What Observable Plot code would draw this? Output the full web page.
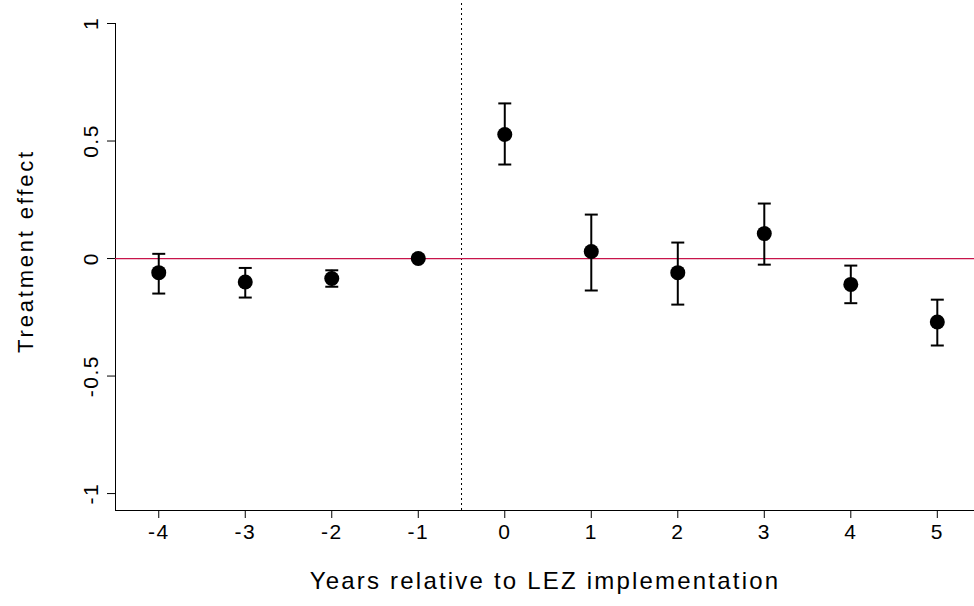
<!DOCTYPE html>
<html><head><meta charset="utf-8">
<script src="https://cdn.jsdelivr.net/npm/d3@7"></script>
<script src="https://cdn.jsdelivr.net/npm/@observablehq/plot@0.6"></script>
<style>body{margin:0;background:#fff}</style>
</head><body><div id="chart"></div>
<script>
// event-study estimates
let years = [-4, -3, -2, -1, 0, 1, 2, 3, 4, 5];
let effect = [-0.06, -0.10, -0.085, 0, 0.528, 0.03, -0.06, 0.106, -0.11, -0.27];
let upper = [0.02, -0.04, -0.05, 0, 0.66, 0.187, 0.068, 0.234, -0.03, -0.175];
let lower = [-0.149, -0.166, -0.12, 0, 0.40, -0.136, -0.196, -0.026, -0.19, -0.37];
let yTicks = [-1, -0.5, 0, 0.5, 1];
let xTitle = "Years relative to LEZ implementation";
let yTitle = "Treatment effect";

let data = years.map((x, i) => ({x, y: effect[i], lo: lower[i], hi: upper[i]}));
let cap = 0.075;
let font = "Liberation Sans, Arial, sans-serif";
let fmt = d => String(d);

let chart = Plot.plot({
  width: 974, height: 606,
  marginLeft: 115, marginRight: 0, marginTop: 23, marginBottom: 96,
  style: {fontFamily: font, fontSize: "20px", color: "#000"},
  x: {domain: [-4.5, 5.43], label: null},
  y: {domain: [-1.072, 1], label: null},
  marks: [
    Plot.axisX({ticks: years, tickSize: 8, tickPadding: 6, fontSize: 21, tickFormat: fmt}),
    Plot.axisY({ticks: yTicks, tickSize: 8, tickRotate: -90, tickPadding: 10, fontSize: 21, tickFormat: fmt}),
    Plot.ruleX([-4.5], {y1: -1.072, y2: 1, stroke: "#000"}),
    Plot.ruleY([-1.072], {stroke: "#000"}),
    Plot.ruleX([-0.5], {y1: -1.072, y2: 1.1, stroke: "#000", strokeDasharray: "2,3"}),
    Plot.ruleY([0], {stroke: "#c8144b", strokeWidth: 1.2}),
    Plot.ruleX(data, {x: "x", y1: "lo", y2: "hi", strokeWidth: 2}),
    Plot.link(data, {x1: d => d.x - cap, x2: d => d.x + cap, y1: "hi", y2: "hi", strokeWidth: 2}),
    Plot.link(data, {x1: d => d.x - cap, x2: d => d.x + cap, y1: "lo", y2: "lo", strokeWidth: 2}),
    Plot.dot(data, {x: "x", y: "y", r: 7.5, fill: "#000"}),
    Plot.text([xTitle], {frameAnchor: "bottom", dy: 78, fontSize: 24, textAnchor: "middle"}),
    Plot.text([yTitle], {frameAnchor: "left", dx: -90, dy: -16, rotate: -90, fontSize: 22, textAnchor: "middle"})
  ]
});
// Stata-like wide lettering
d3.select(chart).selectAll("text").each(function () {
  let t = this.textContent;
  if (t === xTitle) this.setAttribute("letter-spacing", "2.2");
  else if (t === yTitle) this.setAttribute("letter-spacing", "2.8");
  else this.setAttribute("letter-spacing", "1.5");
});
document.getElementById("chart").append(chart);
</script></body></html>
